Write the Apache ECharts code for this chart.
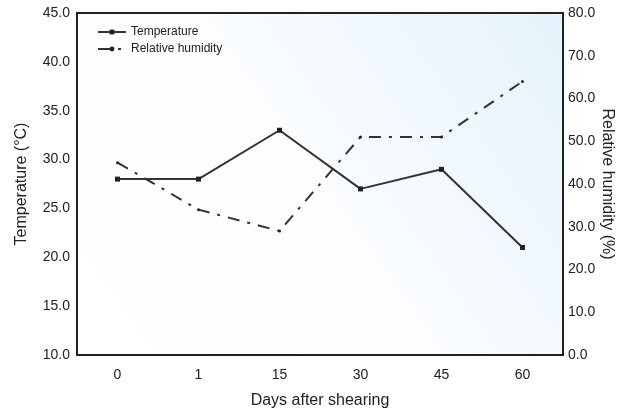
<!DOCTYPE html>
<html>
<head>
<meta charset="utf-8">
<script src="https://cdn.jsdelivr.net/npm/echarts@6/dist/echarts.min.js"></script>
<style>
    html, body { margin: 0; padding: 0; background: #fff; }
    #chart { width: 623px; height: 418px; }
</style>
</head>
<body>
<div id="chart"></div>
<script>
    // 数据
    const days = ['0', '1', '15', '30', '45', '60']
    const temperature = [28, 28, 33, 27, 29, 21]
    const humidity = [45, 34, 29, 51, 51, 64]

    const font = '"Liberation Sans Narrow", "Liberation Sans", Arial, sans-serif'

    const chart = echarts.init(document.getElementById('chart'))
    chart.setOption({
        animation: false,
        textStyle: { fontFamily: font, color: '#222' },
        grid: {
            left: 77, right: 60, top: 13, bottom: 63,
            outerBoundsMode: 'none',
            containLabel: false,
            show: true,
            borderColor: '#222',
            borderWidth: 2,
            backgroundColor: new echarts.graphic.LinearGradient(0, 1, 1, 0, [
                { offset: 0, color: '#ffffff' },
                { offset: 0.5, color: '#fbfdff' },
                { offset: 1, color: '#e4f2fb' }
            ])
        },
        legend: {
            orient: 'vertical',
            left: 92, top: 21,
            itemWidth: 28, itemHeight: 6, itemGap: 5,
            textStyle: { fontFamily: font, fontSize: 12, color: '#222' },
            data: ['Temperature', 'Relative humidity']
        },
        xAxis: {
            type: 'category',
            data: days,
            name: 'Days after shearing',
            nameLocation: 'middle',
            nameGap: 38,
            nameTextStyle: { fontSize: 16, color: '#222' },
            axisLine: { lineStyle: { color: '#222', width: 2 } },
            axisTick: { show: false },
            axisLabel: { fontSize: 14, color: '#222', margin: 13 }
        },
        yAxis: [{
            type: 'value',
            min: 10, max: 45, interval: 5,
            name: 'Temperature (°C)',
            nameLocation: 'middle',
            nameGap: 47,
            nameMoveOverlap: false,
            nameTextStyle: { fontSize: 16, color: '#222' },
            axisLine: { show: true, lineStyle: { color: '#222', width: 2 } },
            axisTick: { show: false },
            splitLine: { show: false },
            axisLabel: { fontSize: 14, color: '#222', margin: 7, formatter: v => v.toFixed(1) }
        }, {
            type: 'value',
            min: 0, max: 80, interval: 10,
            name: 'Relative humidity (%)',
            nameLocation: 'middle',
            nameGap: 36,
            nameMoveOverlap: false,
            nameRotate: -90,
            nameTextStyle: { fontSize: 16, color: '#222' },
            axisLine: { show: true, lineStyle: { color: '#222', width: 2 } },
            axisTick: { show: false },
            splitLine: { show: false },
            axisLabel: { fontSize: 14, color: '#222', margin: 5, formatter: v => v.toFixed(1) }
        }],
        series: [{
            name: 'Temperature',
            type: 'line',
            yAxisIndex: 0,
            data: temperature,
            symbol: 'rect',
            symbolSize: 5,
            itemStyle: { color: '#222' },
            lineStyle: { color: '#333', width: 2 }
        }, {
            name: 'Relative humidity',
            type: 'line',
            yAxisIndex: 1,
            data: humidity,
            symbol: 'circle',
            symbolSize: 3,
            itemStyle: { color: '#222' },
            lineStyle: { color: '#333', width: 2, type: [12, 8, 3, 8] }
        }]
    })
</script>
</body>
</html>
